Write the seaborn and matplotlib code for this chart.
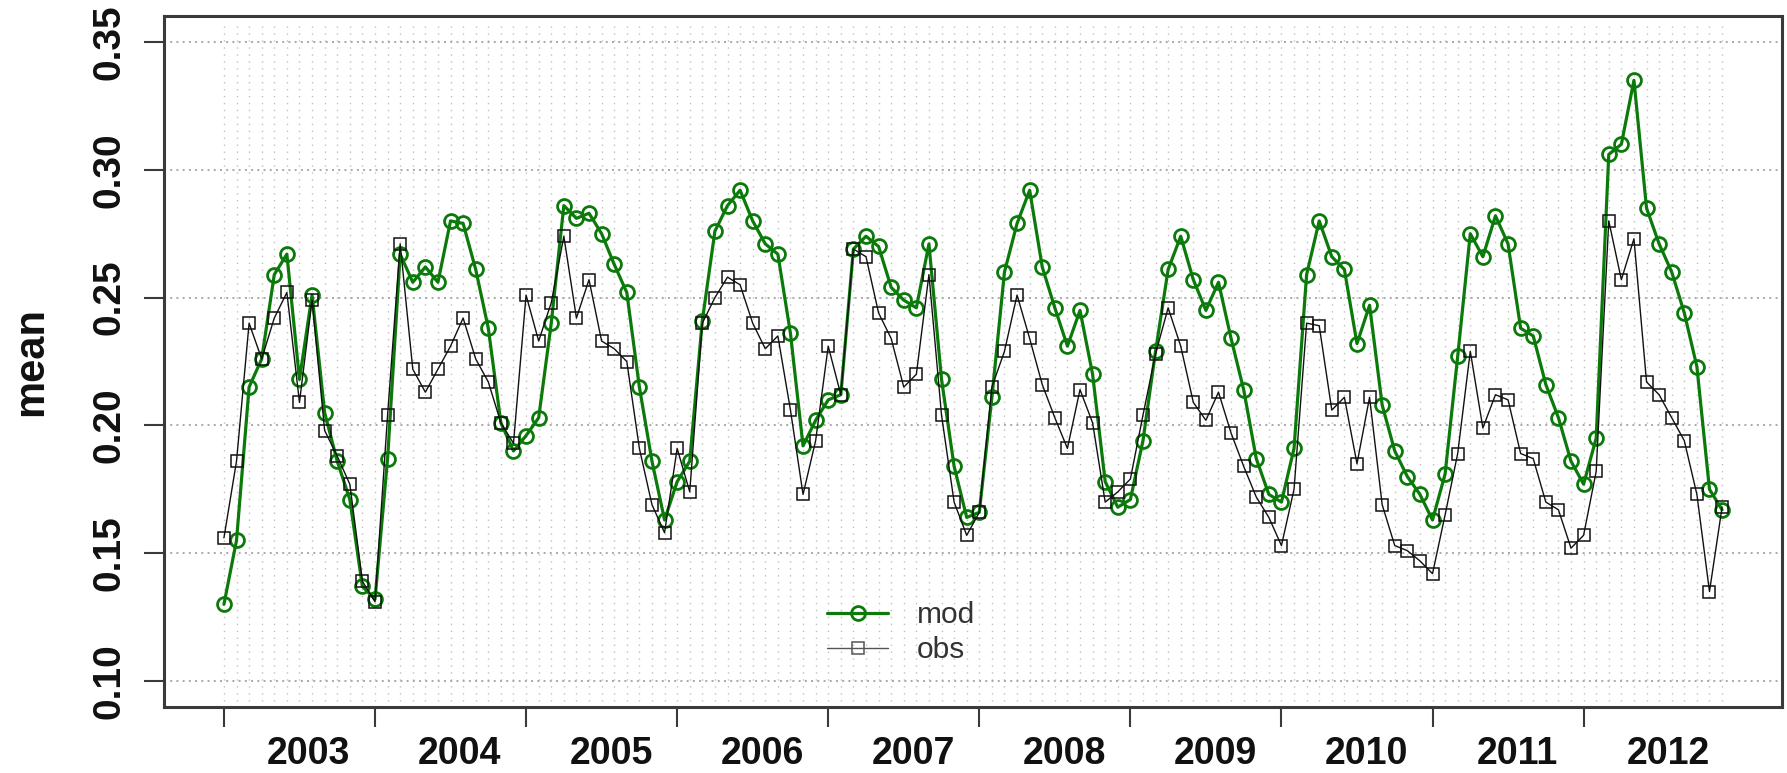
import numpy as np
import pandas as pd
import matplotlib
matplotlib.use("Agg")
import matplotlib.pyplot as plt
from matplotlib.lines import Line2D
import seaborn as sns

# Monthly mean series, January 2003 - December 2012
years = [2003, 2004, 2005, 2006, 2007, 2008, 2009, 2010, 2011, 2012]

mod = [
    0.130, 0.155, 0.215, 0.226, 0.259, 0.267, 0.218, 0.251, 0.205, 0.186, 0.171, 0.137,
    0.132, 0.187, 0.267, 0.256, 0.262, 0.256, 0.280, 0.279, 0.261, 0.238, 0.201, 0.190,
    0.196, 0.203, 0.240, 0.286, 0.281, 0.283, 0.275, 0.263, 0.252, 0.215, 0.186, 0.163,
    0.178, 0.186, 0.241, 0.276, 0.286, 0.292, 0.280, 0.271, 0.267, 0.236, 0.192, 0.202,
    0.210, 0.212, 0.269, 0.274, 0.270, 0.254, 0.249, 0.246, 0.271, 0.218, 0.184, 0.164,
    0.166, 0.211, 0.260, 0.279, 0.292, 0.262, 0.246, 0.231, 0.245, 0.220, 0.178, 0.168,
    0.171, 0.194, 0.229, 0.261, 0.274, 0.257, 0.245, 0.256, 0.234, 0.214, 0.187, 0.173,
    0.170, 0.191, 0.259, 0.280, 0.266, 0.261, 0.232, 0.247, 0.208, 0.190, 0.180, 0.173,
    0.163, 0.181, 0.227, 0.275, 0.266, 0.282, 0.271, 0.238, 0.235, 0.216, 0.203, 0.186,
    0.177, 0.195, 0.306, 0.310, 0.335, 0.285, 0.271, 0.260, 0.244, 0.223, 0.175, 0.167,
]

obs = [
    0.156, 0.186, 0.240, 0.226, 0.242, 0.252, 0.209, 0.249, 0.198, 0.188, 0.177, 0.139,
    0.131, 0.204, 0.271, 0.222, 0.213, 0.222, 0.231, 0.242, 0.226, 0.217, 0.201, 0.193,
    0.251, 0.233, 0.248, 0.274, 0.242, 0.257, 0.233, 0.230, 0.225, 0.191, 0.169, 0.158,
    0.191, 0.174, 0.240, 0.250, 0.258, 0.255, 0.240, 0.230, 0.235, 0.206, 0.173, 0.194,
    0.231, 0.212, 0.269, 0.266, 0.244, 0.234, 0.215, 0.220, 0.259, 0.204, 0.170, 0.157,
    0.166, 0.215, 0.229, 0.251, 0.234, 0.216, 0.203, 0.191, 0.214, 0.201, 0.170, 0.174,
    0.179, 0.204, 0.228, 0.246, 0.231, 0.209, 0.202, 0.213, 0.197, 0.184, 0.172, 0.164,
    0.153, 0.175, 0.240, 0.239, 0.206, 0.211, 0.185, 0.211, 0.169, 0.153, 0.151, 0.147,
    0.142, 0.165, 0.189, 0.229, 0.199, 0.212, 0.210, 0.189, 0.187, 0.170, 0.167, 0.152,
    0.157, 0.182, 0.280, 0.257, 0.273, 0.217, 0.212, 0.203, 0.194, 0.173, 0.135, 0.168,
]

y_ticks = [0.10, 0.15, 0.20, 0.25, 0.30, 0.35]
y_tick_labels = ["0.10", "0.15", "0.20", "0.25", "0.30", "0.35"]

month = np.arange(len(mod))
df = pd.DataFrame({"month": month, "mod": mod, "obs": obs})

sns.set_style("white")
plt.rcParams["font.family"] = ["Liberation Sans", "DejaVu Sans"]

GREEN = "#0b7a0b"
FRAME = "#3a3a3a"

W, H = 1787, 773
fig = plt.figure(figsize=(W / 100, H / 100), dpi=100)
left_px, right_px, top_px, bottom_px = 164, 1782, 16.4, 706.6
ax = fig.add_axes([left_px / W, 1 - bottom_px / H,
                   (right_px - left_px) / W, (bottom_px - top_px) / H])

n = len(month)
pad_x = 0.04 * (n - 1)
ax.set_xlim(-pad_x, (n - 1) + pad_x)
ax.set_ylim(0.09, 0.36)

# dotted monthly guide lines and horizontal grid at the value ticks
ax.vlines(df["month"], 0.008, 0.992, transform=ax.get_xaxis_transform(),
          colors="#c0c0c0", linewidth=1.0, linestyles=(0, (1, 4)), zorder=0)
ax.set_yticks(y_ticks)
ax.grid(axis="y", color="#a8a8a8", linewidth=1.4, linestyle=(0, (1, 2.2)), zorder=0)
ax.grid(axis="x", visible=False)

sns.lineplot(data=df, x="month", y="mod", ax=ax, color=GREEN, linewidth=2.3,
             marker="o", markersize=10, markerfacecolor="none",
             markeredgecolor=GREEN, markeredgewidth=2.0, zorder=3)
sns.lineplot(data=df, x="month", y="obs", ax=ax, color="#111111", linewidth=1.0,
             marker="s", markersize=8.6, markerfacecolor="none",
             markeredgecolor="#111111", markeredgewidth=1.1, zorder=4)

# axes frame and ticks
for s in ax.spines.values():
    s.set_visible(True)
    s.set_color(FRAME)
    s.set_linewidth(2.2)

year_starts = [12 * i for i in range(len(years))]
ax.set_xticks(year_starts)
ax.set_xticklabels([])
ax.set_xticks([12 * i + 6.75 for i in range(len(years))], minor=True)
ax.set_xticklabels([str(y) for y in years], minor=True,
                   fontsize=27, fontweight="bold", color="#111111")
ax.tick_params(axis="x", which="major", length=14.4, width=1.5, color=FRAME,
               direction="out", bottom=True)
ax.tick_params(axis="x", which="minor", length=0, pad=21, bottom=True)

ax.set_yticklabels(y_tick_labels, fontsize=28, fontweight="bold", color="#111111")
ax.tick_params(axis="y", which="major", length=14.4, width=1.5, color=FRAME,
               direction="out", left=True, pad=12)
for lab in ax.get_yticklabels():
    lab.set_rotation(90)
    lab.set_va("center")

ax.set_xlabel("")
ax.set_ylabel("mean", fontsize=30, fontweight="bold", color="#111111")
ax.yaxis.set_label_coords(-0.0695, 0.5)

handles = [
    Line2D([], [], color=GREEN, linewidth=2.3, marker="o", markersize=10,
           markerfacecolor="none", markeredgecolor=GREEN, markeredgewidth=2.0),
    Line2D([], [], color="#555555", linewidth=1.0, marker="s", markersize=8.6,
           markerfacecolor="none", markeredgecolor="#555555", markeredgewidth=1.1),
]
leg = ax.legend(handles, ["mod", "obs"], loc="center left",
                bbox_to_anchor=(0.4098, 0.107), frameon=False, fontsize=21.5,
                handlelength=2.05, handletextpad=0.95, labelspacing=0.22,
                borderpad=0, borderaxespad=0)
for t in leg.get_texts():
    t.set_color("#333333")

fig.savefig("out.png", dpi=100)
